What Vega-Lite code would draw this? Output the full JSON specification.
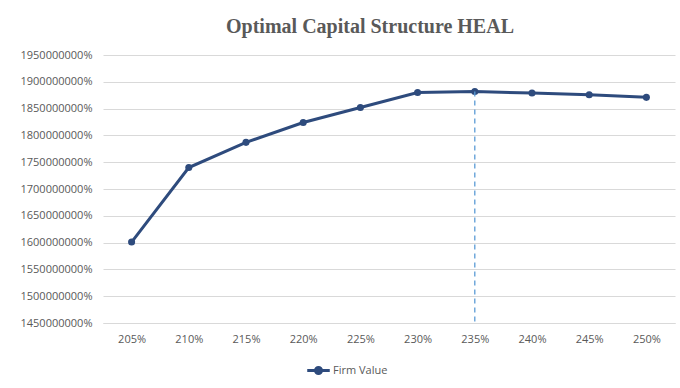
{
  "$schema": "https://vega.github.io/schema/vega-lite/v6.json",
  "autosize": "none",
  "width": 572,
  "height": 268,
  "padding": {"left": 103, "top": 55, "right": 5, "bottom": 65},
  "background": "white",
  "title": {
    "text": "Optimal Capital Structure HEAL",
    "font": "Liberation Serif",
    "fontSize": 20,
    "fontWeight": "bold",
    "color": "#595959",
    "anchor": "middle",
    "dx": -19,
    "offset": 12
  },
  "data": {
    "values": [
      {"debt": "205%", "value": 16010000, "series": "Firm Value"},
      {"debt": "210%", "value": 17400000, "series": "Firm Value"},
      {"debt": "215%", "value": 17870000, "series": "Firm Value"},
      {"debt": "220%", "value": 18240000, "series": "Firm Value"},
      {"debt": "225%", "value": 18520000, "series": "Firm Value"},
      {"debt": "230%", "value": 18800000, "series": "Firm Value"},
      {"debt": "235%", "value": 18820000, "series": "Firm Value"},
      {"debt": "240%", "value": 18790000, "series": "Firm Value"},
      {"debt": "245%", "value": 18760000, "series": "Firm Value"},
      {"debt": "250%", "value": 18710000, "series": "Firm Value"}
    ]
  },
  "config": {
    "view": {"stroke": null},
    "axis": {"labelFont": "Open Sans", "labelFontSize": 11, "labelColor": "#595959"}
  },
  "encoding": {
    "x": {
      "field": "debt",
      "type": "ordinal",
      "scale": {
        "type": "point",
        "padding": 0.5,
        "domain": ["205%", "210%", "215%", "220%", "225%", "230%", "235%", "240%", "245%", "250%"]
      },
      "axis": {
        "title": null,
        "labelAngle": 0,
        "ticks": false,
        "domainColor": "#d9d9d9",
        "labelPadding": 10,
        "grid": false
      }
    },
    "y": {
      "field": "value",
      "type": "quantitative",
      "scale": {"domain": [14500000, 19500000], "zero": false},
      "axis": {
        "title": null,
        "values": [14500000, 15000000, 15500000, 16000000, 16500000, 17000000, 17500000, 18000000, 18500000, 19000000, 19500000],
        "format": ".0%",
        "domain": false,
        "ticks": false,
        "labelOverlap": false,
        "labelPadding": 11,
        "gridColor": "#d9d9d9",
        "gridWidth": 1
      }
    }
  },
  "layer": [
    {
      "mark": {"type": "line", "strokeWidth": 3, "point": {"size": 50, "filled": true}},
      "encoding": {
        "color": {
          "field": "series",
          "type": "nominal",
          "scale": {"domain": ["Firm Value"], "range": ["#2E4B7D"]},
          "legend": {
            "title": null,
            "orient": "none",
            "legendX": 205,
            "legendY": 305,
            "labelFont": "Open Sans",
            "labelFontSize": 11,
            "labelColor": "#595959",
            "symbolType": "M-1.3,0H1.3M-0.35,0A0.35,0.35 0 1,0 0.35,0A0.35,0.35 0 1,0 -0.35,0",
            "symbolSize": 300,
            "symbolStrokeWidth": 3,
            "symbolFillColor": "#2E4B7D",
            "labelOffset": 4
          }
        }
      }
    },
    {
      "transform": [{"filter": "datum.debt === '235%'"}],
      "mark": {"type": "rule", "color": "#5B9BD5", "strokeDash": [5, 4], "strokeWidth": 1.3},
      "encoding": {
        "y2": {"datum": 14500000}
      }
    }
  ]
}
